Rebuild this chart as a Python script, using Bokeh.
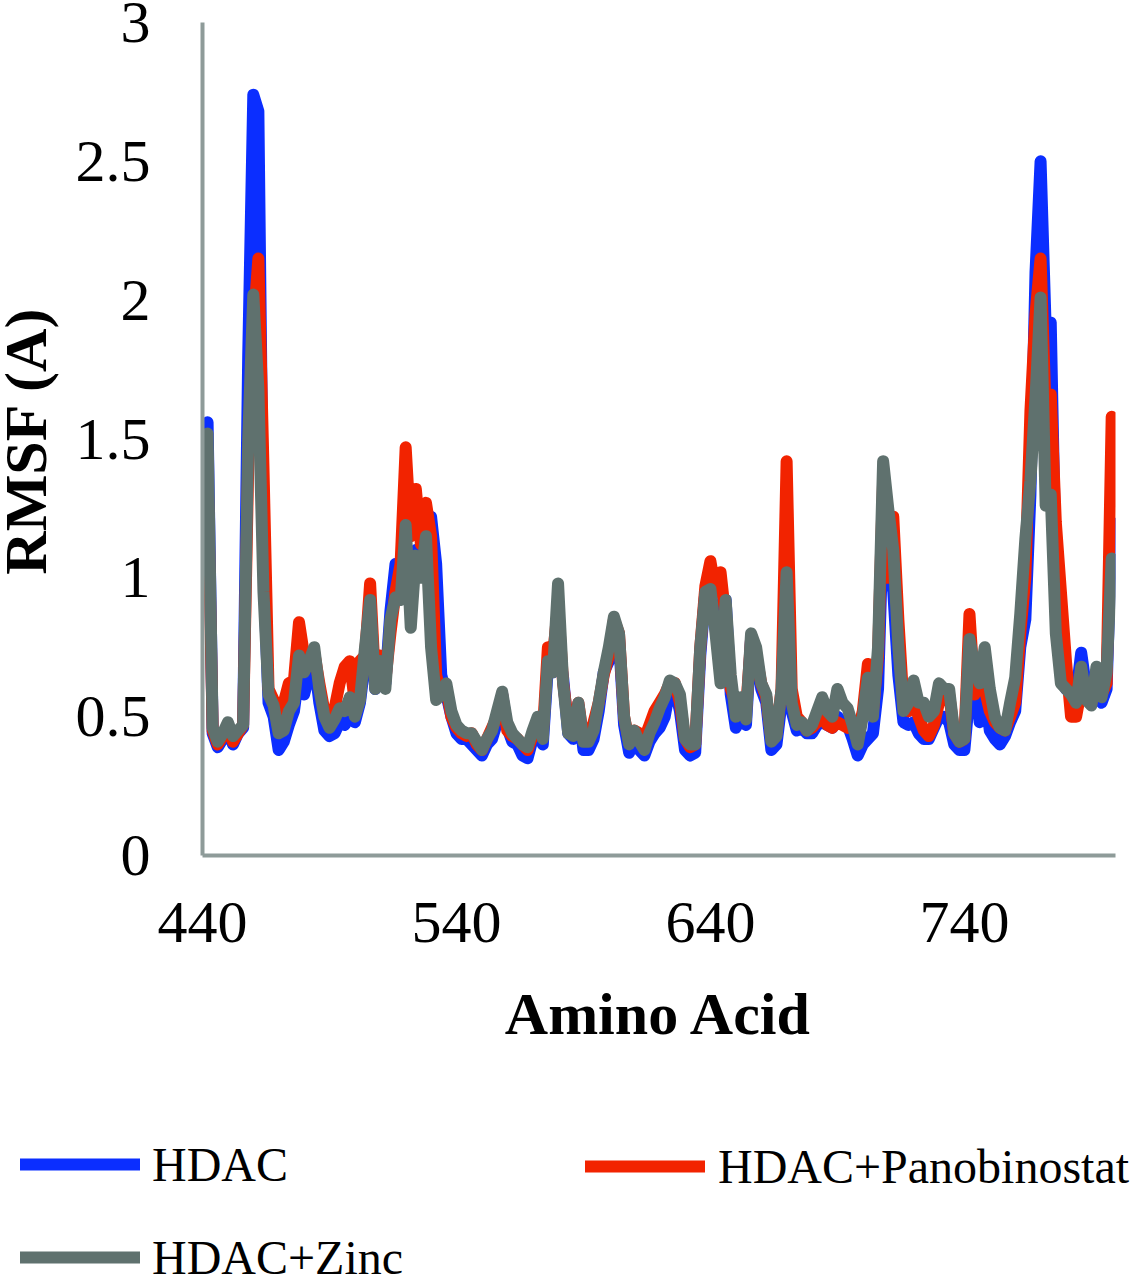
from bokeh.plotting import figure
from bokeh.layouts import column, row
from bokeh.models import (Range1d, FixedTicker, NumeralTickFormatter, Legend,
                          LegendItem, Label)
from bokeh.embed import file_html
from bokeh.resources import INLINE

# ---------------- data ----------------
residue = list(range(442, 799, 2))  # amino acid number, every 2nd residue

hdac = [
    1.56, 0.44, 0.39, 0.42, 0.46, 0.40, 0.44, 0.46, 1.80, 2.74,
    2.68, 1.05, 0.55, 0.50, 0.38, 0.41, 0.47, 0.52, 0.66, 0.58,
    0.65, 0.70, 0.55, 0.45, 0.43, 0.44, 0.48, 0.47, 0.52, 0.48,
    0.55, 0.70, 0.90, 0.60, 0.70, 0.62, 0.88, 1.05, 1.00, 1.12,
    1.00, 1.10, 1.05, 1.20, 1.22, 1.05, 0.65, 0.58, 0.50, 0.44,
    0.42, 0.42, 0.40, 0.38, 0.36, 0.40, 0.42, 0.48, 0.58, 0.46,
    0.41, 0.40, 0.36, 0.35, 0.42, 0.46, 0.40, 0.68, 0.66, 0.75,
    0.64, 0.44, 0.42, 0.54, 0.38, 0.38, 0.42, 0.52, 0.66, 0.70,
    0.82, 0.78, 0.47, 0.37, 0.43, 0.38, 0.36, 0.41, 0.44, 0.46,
    0.50, 0.60, 0.60, 0.52, 0.38, 0.36, 0.37, 0.72, 0.95, 0.95,
    0.85, 0.70, 0.92, 0.58, 0.46, 0.50, 0.47, 0.78, 0.72, 0.60,
    0.55, 0.38, 0.40, 0.55, 1.00, 0.52, 0.45, 0.46, 0.44, 0.44,
    0.47, 0.48, 0.47, 0.46, 0.50, 0.48, 0.47, 0.42, 0.36, 0.40,
    0.42, 0.44, 0.60, 1.20, 1.05, 0.95, 0.65, 0.48, 0.47, 0.48,
    0.44, 0.42, 0.42, 0.46, 0.50, 0.50, 0.48, 0.40, 0.38, 0.38,
    0.58, 0.70, 0.48, 0.60, 0.45, 0.42, 0.40, 0.43, 0.48, 0.52,
    0.75, 0.85, 1.30, 2.10, 2.50, 1.90, 1.92, 1.00, 0.65, 0.60,
    0.60, 0.58, 0.73, 0.60, 0.58, 0.62, 0.55, 0.60, 1.20,
]

hdac_panobinostat = [
    1.38, 0.45, 0.40, 0.43, 0.47, 0.41, 0.44, 0.47, 1.40, 1.90,
    2.15, 1.40, 0.60, 0.56, 0.45, 0.55, 0.62, 0.63, 0.84, 0.72,
    0.70, 0.73, 0.62, 0.52, 0.50, 0.53, 0.62, 0.68, 0.70, 0.55,
    0.70, 0.72, 0.98, 0.62, 0.72, 0.63, 0.80, 0.95, 1.05, 1.47,
    1.15, 1.32, 1.12, 1.27, 1.15, 0.65, 0.58, 0.60, 0.50, 0.46,
    0.44, 0.43, 0.44, 0.40, 0.38, 0.42, 0.46, 0.50, 0.58, 0.45,
    0.43, 0.42, 0.40, 0.38, 0.43, 0.47, 0.44, 0.75, 0.72, 0.90,
    0.62, 0.48, 0.47, 0.55, 0.42, 0.42, 0.48, 0.55, 0.65, 0.72,
    0.85, 0.80, 0.50, 0.41, 0.45, 0.44, 0.42, 0.47, 0.52, 0.55,
    0.58, 0.62, 0.62, 0.55, 0.42, 0.39, 0.40, 0.75, 0.97, 1.06,
    0.95, 1.02, 0.85, 0.60, 0.55, 0.56, 0.52, 0.78, 0.72, 0.62,
    0.57, 0.42, 0.44, 0.60, 1.42, 0.60, 0.50, 0.48, 0.45, 0.46,
    0.48, 0.50, 0.47, 0.46, 0.48, 0.47, 0.46, 0.48, 0.44, 0.52,
    0.69, 0.52, 0.72, 1.35, 1.00, 1.22, 0.85, 0.55, 0.52, 0.55,
    0.50, 0.45, 0.43, 0.47, 0.55, 0.58, 0.58, 0.44, 0.41, 0.42,
    0.87, 0.58, 0.65, 0.60, 0.52, 0.48, 0.46, 0.45, 0.50, 0.55,
    0.80, 1.00, 1.60, 1.95, 2.15, 1.60, 1.66, 1.20, 0.95, 0.70,
    0.50, 0.50, 0.60, 0.62, 0.55, 0.66, 0.58, 0.62, 1.58,
]

hdac_zinc = [
    1.52, 0.46, 0.41, 0.44, 0.48, 0.43, 0.45, 0.47, 1.50, 2.02,
    1.68, 0.95, 0.58, 0.54, 0.44, 0.45, 0.52, 0.55, 0.72, 0.66,
    0.70, 0.75, 0.60, 0.50, 0.46, 0.49, 0.53, 0.52, 0.57, 0.50,
    0.56, 0.75, 0.92, 0.60, 0.70, 0.60, 0.85, 0.93, 0.92, 1.19,
    0.82, 1.08, 1.00, 1.15, 0.75, 0.56, 0.58, 0.62, 0.52, 0.47,
    0.45, 0.44, 0.44, 0.41, 0.38, 0.42, 0.45, 0.52, 0.59, 0.48,
    0.44, 0.42, 0.40, 0.39, 0.45, 0.50, 0.42, 0.70, 0.66, 0.98,
    0.62, 0.44, 0.43, 0.55, 0.41, 0.41, 0.45, 0.55, 0.66, 0.75,
    0.86, 0.80, 0.50, 0.40, 0.45, 0.41, 0.38, 0.44, 0.48, 0.53,
    0.57, 0.63, 0.62, 0.58, 0.42, 0.40, 0.40, 0.75, 0.95, 0.96,
    0.80, 0.62, 0.92, 0.65, 0.50, 0.57, 0.49, 0.80, 0.75, 0.62,
    0.58, 0.41, 0.43, 0.60, 1.02, 0.55, 0.47, 0.48, 0.45, 0.47,
    0.52, 0.57, 0.52, 0.50, 0.60, 0.55, 0.53, 0.47, 0.40, 0.50,
    0.64, 0.50, 0.75, 1.42, 1.25, 1.10, 0.75, 0.52, 0.55, 0.63,
    0.55, 0.55, 0.50, 0.52, 0.62, 0.60, 0.60, 0.44, 0.41, 0.42,
    0.78, 0.68, 0.62, 0.75, 0.60, 0.50, 0.46, 0.45, 0.55, 0.64,
    0.87, 1.14, 1.35, 1.65, 2.01, 1.26, 1.30, 0.80, 0.62, 0.60,
    0.58, 0.55, 0.68, 0.56, 0.54, 0.68, 0.57, 0.66, 1.07,
]

x_ticks = [440, 540, 640, 740]
y_ticks = [0, 0.5, 1, 1.5, 2, 2.5, 3]
series_names = ["HDAC", "HDAC+Panobinostat", "HDAC+Zinc"]
series_colors = ["#0B2EFF", "#F22300", "#5F716E"]
y_title = "RMSF (A)"
x_title = "Amino Acid"

FONT = "Liberation Serif"
AXIS_GRAY = "#8E9B99"
LINE_W = 12

W = 1136
H_MAIN = 1100
H_LEG = 176
W_YLAB = 60

# ---------------- y-axis title strip ----------------
t = figure(
    width=W_YLAB, height=H_MAIN,
    x_range=Range1d(0, 1), y_range=Range1d(0, 1),
    x_axis_type=None, y_axis_type=None,
    output_backend="svg", toolbar_location=None,
    min_border_left=0, min_border_right=0, min_border_top=0, min_border_bottom=0,
    background_fill_color="white", border_fill_color="white",
)
t.frame_align = False
t.outline_line_color = None
t.add_layout(Label(x=25, y=H_MAIN - 440, x_units="screen", y_units="screen",
                   text=y_title, angle=90, angle_units="deg",
                   text_align="center", text_baseline="middle",
                   text_font=FONT, text_font_size="60px",
                   text_font_style="bold", text_color="black"))

# ---------------- main chart ----------------
p = figure(
    width=W - W_YLAB, height=H_MAIN,
    x_range=Range1d(440, 799.5), y_range=Range1d(0, 3),
    output_backend="svg", toolbar_location=None,
    min_border_left=202 - W_YLAB, min_border_right=21,
    min_border_top=22, min_border_bottom=H_MAIN - 855,
    background_fill_color="white", border_fill_color="white",
)
p.frame_align = False
p.outline_line_color = None
p.xgrid.visible = False
p.ygrid.visible = False

for ys, c in zip([hdac, hdac_panobinostat, hdac_zinc], series_colors):
    p.line(residue, ys, line_color=c, line_width=LINE_W,
           line_cap="round", line_join="round")

for ax in (p.xaxis[0], p.yaxis[0]):
    ax.axis_line_color = AXIS_GRAY
    ax.axis_line_width = 4
    ax.major_tick_line_color = None
    ax.minor_tick_line_color = None
    ax.major_label_text_font = FONT
    ax.major_label_text_font_size = "60px"
    ax.major_label_text_color = "black"
    ax.axis_label_text_font = FONT
    ax.axis_label_text_font_size = "60px"
    ax.axis_label_text_font_style = "bold"
    ax.axis_label_text_color = "black"

p.xaxis.ticker = FixedTicker(ticks=x_ticks)
p.yaxis.ticker = FixedTicker(ticks=y_ticks)
p.yaxis.formatter = NumeralTickFormatter(format="0.[0]")
p.xaxis.axis_label = x_title
p.xaxis.major_label_standoff = 41
p.xaxis.axis_label_standoff = 36
p.yaxis.major_label_standoff = 46

# ---------------- legend strip ----------------
q = figure(
    width=W, height=H_LEG,
    x_range=Range1d(0, 1), y_range=Range1d(0, 1),
    x_axis_type=None, y_axis_type=None,
    output_backend="svg", toolbar_location=None,
    min_border_left=0, min_border_right=0, min_border_top=0, min_border_bottom=0,
    background_fill_color="white", border_fill_color="white",
)
q.frame_align = False
q.outline_line_color = None

# legend keys: renderers whose only points lie outside the visible range
leg_renderers = [
    q.line(x=[-2, -1], y=[-2, -1], line_color=c, line_width=LINE_W, line_cap="round")
    for c in series_colors
]


def make_legend(items, loc, standoff):
    return Legend(items=items, location=loc, orientation="vertical",
                  glyph_width=120, glyph_height=40, label_height=53,
                  label_standoff=standoff, spacing=38, padding=0, margin=0,
                  border_line_alpha=0, background_fill_alpha=0,
                  label_text_font=FONT, label_text_font_size="48px",
                  label_text_color="black")


leg1 = make_legend([LegendItem(label=series_names[0], renderers=[leg_renderers[0]]),
                    LegendItem(label=series_names[2], renderers=[leg_renderers[2]])],
                   (20, H_LEG - 184.5), 12)
leg2 = make_legend([LegendItem(label=series_names[1], renderers=[leg_renderers[1]])],
                   (585, H_LEG - 93.5), 13)
q.add_layout(leg1)
q.add_layout(leg2)

layout = column(row(t, p, spacing=0), q, spacing=0)
open("out.html", "w").write(file_html(layout, INLINE))
